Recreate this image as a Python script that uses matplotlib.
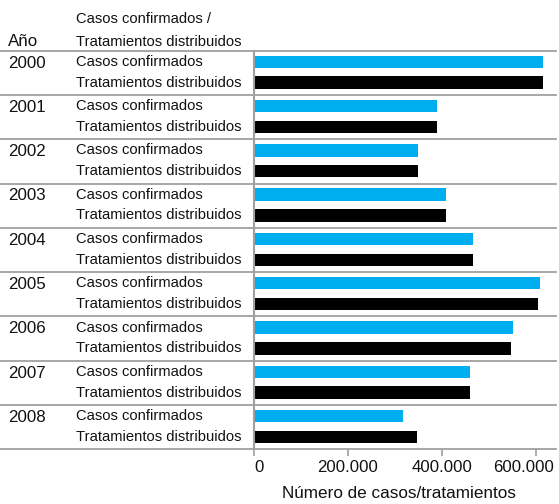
import matplotlib
matplotlib.use("Agg")
import matplotlib.pyplot as plt
import matplotlib.transforms as mtransforms

years = ['2000', '2001', '2002', '2003', '2004', '2005', '2006', '2007', '2008']
series_names = ['Casos confirmados', 'Tratamientos distribuidos']
casos = [614000, 389000, 348000, 408000, 465000, 608000, 552000, 460000, 316000]
tratamientos = [614000, 389000, 348000, 408000, 465000, 604000, 546000, 460000, 346000]
xticks = [0, 200000, 400000, 600000]
xtick_labels = ['0', '200.000', '400.000', '600.000']
xlabel = 'Número de casos/tratamientos'
header_year = 'Año'
header_series = 'Casos confirmados /\nTratamientos distribuidos'

BLUE = '#00AEEF'
BLACK = '#000000'
GRAY = '#A0A0A0'
FONT = 'Liberation Sans'
TXT = '#111111'

W, H = 559, 504
fig = plt.figure(figsize=(W / 100, H / 100), dpi=100)
ax = fig.add_axes([254 / W, 1 - 449.3 / H, (556 - 254) / W, (449.3 - 50.7) / H])

n = len(years)
blue_pos = [i + 0.25 for i in range(n)]
black_pos = [i + 0.72 for i in range(n)]
bh = 0.28
ax.barh(blue_pos, casos, height=bh, color=BLUE, left=0)
ax.barh(black_pos, tratamientos, height=bh, color=BLACK, left=0)

ax.set_xlim(0, 642500)
ax.set_ylim(n, 0)

for s in ['top', 'right', 'bottom']:
    ax.spines[s].set_visible(False)
ax.spines['left'].set_color(GRAY)
ax.spines['left'].set_linewidth(1.5)
ax.set_yticks([])
ax.set_xticks(xticks)
ax.set_xticklabels([])
ax.tick_params(axis='x', direction='out', length=5, width=1.2, color=GRAY)

# separator lines across full width
blend = mtransforms.blended_transform_factory(fig.transFigure, ax.transData)
for i in range(n + 1):
    ax.plot([0, 556 / W], [i, i], transform=blend, color=GRAY, lw=1.3,
            clip_on=False, zorder=0)

# left text column
for i, y in enumerate(years):
    ax.text(8 / W, blue_pos[i] + 0.03, y, transform=blend, ha='left', va='center',
            fontsize=12.2, family=FONT, color=TXT)
    ax.text(76 / W, blue_pos[i], series_names[0], transform=blend, ha='left',
            va='center', fontsize=10.6, family=FONT, color=TXT)
    ax.text(76 / W, black_pos[i], series_names[1], transform=blend, ha='left',
            va='center', fontsize=10.6, family=FONT, color=TXT)

fig.text(8 / W, 1 - 42 / H, header_year, ha='left', va='center',
         fontsize=12.2, family=FONT, color=TXT)
fig.text(76 / W, 1 - 30.5 / H, header_series, ha='left', va='center',
         fontsize=10.6, family=FONT, color=TXT, linespacing=1.75)

# x tick labels with small offsets as in the reference
offsets = [5, 0, 0, -12]
for v, lab, off in zip(xticks, xtick_labels, offsets):
    t = mtransforms.blended_transform_factory(ax.transData, fig.transFigure) + \
        mtransforms.ScaledTranslation(off / 100, 0, fig.dpi_scale_trans)
    fig.text(v, 1 - 467 / H, lab, transform=t, ha='center', va='center',
             fontsize=12.1, family=FONT, color=TXT)

fig.text(399 / W, 1 - 494 / H, xlabel, ha='center', va='center',
         fontsize=12.3, family=FONT, color=TXT)

fig.savefig('out.png', dpi=100)
